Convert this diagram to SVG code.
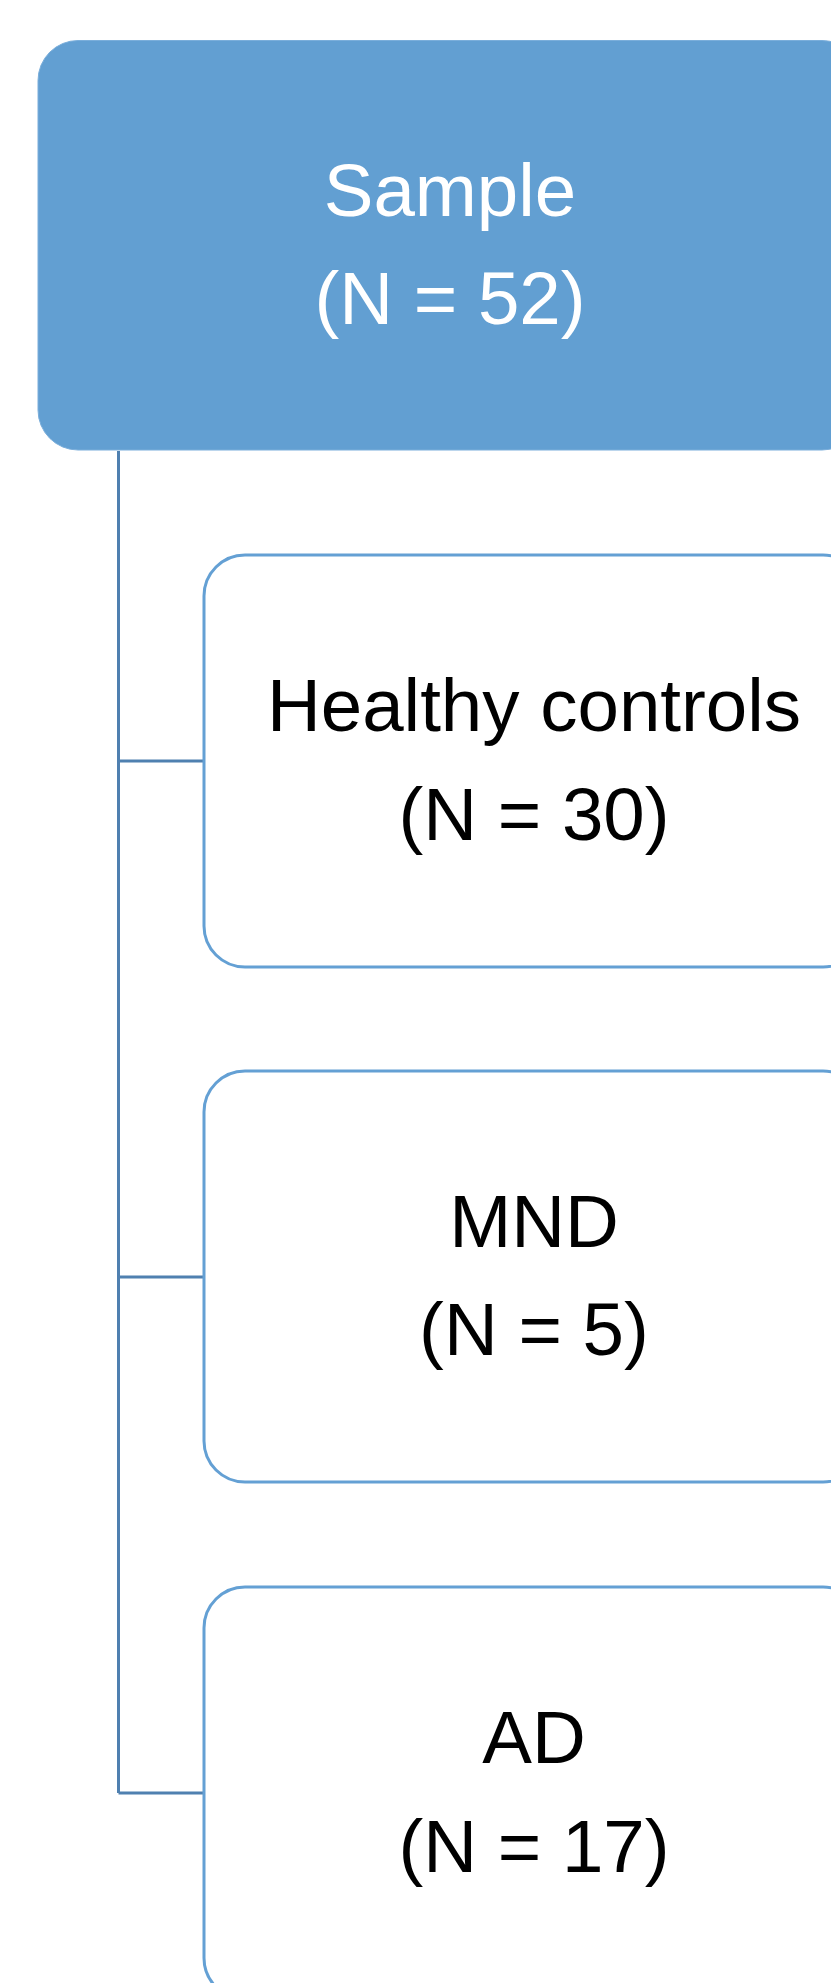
<svg xmlns="http://www.w3.org/2000/svg" width="831" height="1983" viewBox="0 0 831 1983">
<style>
.child{fill:#ffffff;stroke:#64a0d4;stroke-width:3}
.conn{fill:none;stroke:#4f80b0;stroke-width:3}
.t{font-family:"Liberation Sans",Arial,sans-serif;font-size:74.5px;text-anchor:middle}
.tw{fill:#ffffff}
.tb{fill:#000000}
</style>
<rect width="831" height="1983" fill="#ffffff"/>
<g id="connectors">
<path class="conn" d="M118.5,451 V1793 M118.5,761 H204 M118.5,1277 H204 M118.5,1793 H204"/>
</g>
<g id="sample">
<rect x="38" y="40.5" width="824" height="409.5" rx="40" ry="40" fill="#629fd2" stroke="#7aaedb" stroke-width="1"/>
<text class="t tw" x="450" y="216">Sample</text>
<text class="t tw" x="450" y="324">(N = 52)</text>
</g>
<g id="healthy">
<rect class="child" x="204" y="555" width="660" height="412" rx="41" ry="41"/>
<text class="t tb" x="534" y="731">Healthy controls</text>
<text class="t tb" x="534" y="840">(N = 30)</text>
</g>
<g id="mnd">
<rect class="child" x="204" y="1071" width="660" height="411" rx="41" ry="41"/>
<text class="t tb" x="534" y="1247">MND</text>
<text class="t tb" x="534" y="1355">(N = 5)</text>
</g>
<g id="ad">
<rect class="child" x="204" y="1587" width="660" height="412" rx="41" ry="41"/>
<text class="t tb" x="534" y="1763">AD</text>
<text class="t tb" x="534" y="1872">(N = 17)</text>
</g>
</svg>
